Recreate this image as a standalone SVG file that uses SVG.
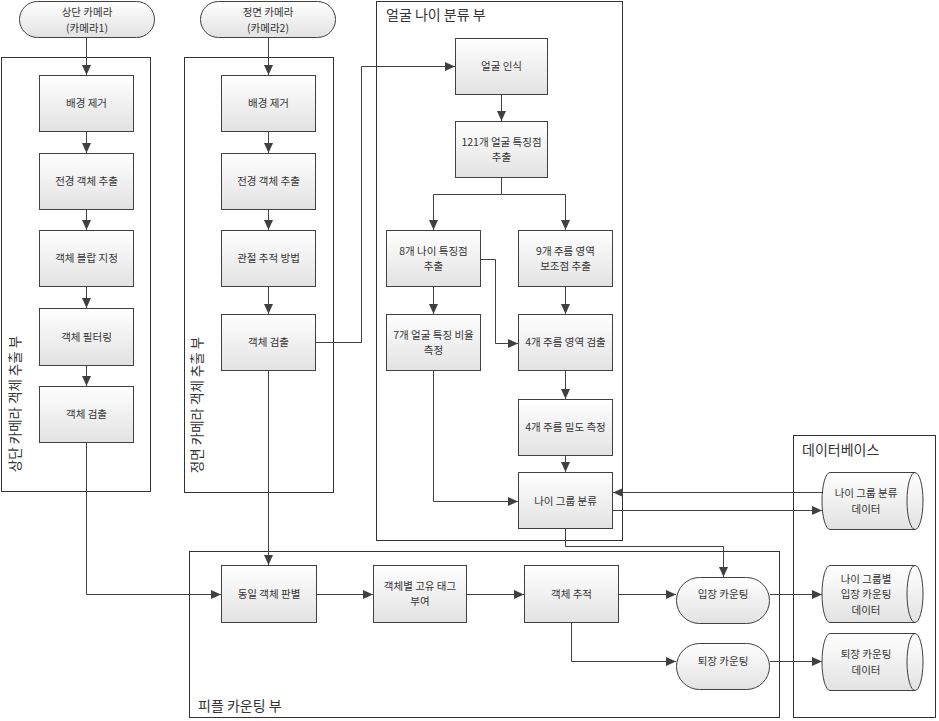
<svg xmlns="http://www.w3.org/2000/svg" width="939" height="721" viewBox="0 0 939 721">
<style>
text{font-family:"Noto Sans CJK KR","Noto Sans",sans-serif;fill:#333}
.lbl{font-size:10.5px;text-anchor:middle}
.ttl{font-size:14px}
.vt{font-size:13.5px;text-anchor:middle}
.grp{fill:none;stroke:#333;stroke-width:1}
.box{fill:url(#gf);stroke:#404040;stroke-width:1}
.cn{fill:none;stroke:#404040;stroke-width:1}
.ar{marker-end:url(#ah)}
</style>
<defs>
<linearGradient id="gf" x1="0" y1="0" x2="0" y2="1">
<stop offset="0" stop-color="#ffffff"/>
<stop offset="1" stop-color="#e2e2e2"/>
</linearGradient>
<marker id="ah" markerUnits="userSpaceOnUse" markerWidth="10" markerHeight="10" viewBox="0 0 10 10" refX="10" refY="5" orient="auto">
<path d="M0,0.5 L10,5 L0,9.5 Z" fill="#404040"/>
</marker>
</defs>
<rect width="939" height="721" fill="#fff"/>

<g id="groups">
<g id="grp-top"><rect class="grp" x="1.5" y="57.5" width="149" height="434"/>
<text class="vt" transform="translate(20,404) rotate(-90)">상단 카메라 객체 추출 부</text></g>
<g id="grp-front"><rect class="grp" x="184.5" y="57.5" width="149" height="435"/>
<text class="vt" transform="translate(202,405) rotate(-90)">정면 카메라 객체 추출 부</text></g>
<g id="grp-face"><rect class="grp" x="376.5" y="1.5" width="246" height="539"/>
<text class="ttl" x="386" y="20">얼굴 나이 분류 부</text></g>
<g id="grp-db"><rect class="grp" x="793.5" y="435.5" width="142" height="282"/>
<text class="ttl" x="802" y="455">데이터베이스</text></g>
<g id="grp-people"><rect class="grp" x="189.5" y="551.5" width="590" height="166"/>
<text class="ttl" x="198" y="711">피플 카운팅 부</text></g>
</g>

<g id="connectors">
<path class="cn ar" d="M86.5,38 V75"/>
<path class="cn ar" d="M86.5,132 V153"/>
<path class="cn ar" d="M86.5,210 V230"/>
<path class="cn ar" d="M86.5,287 V308"/>
<path class="cn ar" d="M86.5,365 V386"/>
<path class="cn ar" d="M268.5,38 V75"/>
<path class="cn ar" d="M268.5,132 V153"/>
<path class="cn ar" d="M268.5,210 V230"/>
<path class="cn ar" d="M268.5,287 V314"/>
<path class="cn ar" d="M86.5,443 V594.5 H221"/>
<path class="cn ar" d="M268.5,371 V565"/>
<path class="cn ar" d="M316,342.5 H361.5 V66.5 H455"/>
<path class="cn ar" d="M501.5,95 V121"/>
<path class="cn ar" d="M501.5,178 V194.5 H433.5 V230"/>
<path class="cn ar" d="M501.5,194.5 H565.5 V230"/>
<path class="cn ar" d="M433.5,287 V314"/>
<path class="cn ar" d="M481,259.5 H495.5 V343.5 H518"/>
<path class="cn ar" d="M565.5,287 V314"/>
<path class="cn ar" d="M565.5,371 V399"/>
<path class="cn ar" d="M565.5,456 V472"/>
<path class="cn ar" d="M433.5,371 V501.5 H518"/>
<path class="cn ar" d="M822,492.5 H613"/>
<path class="cn ar" d="M613,510.5 H822"/>
<path class="cn ar" d="M565.5,529 V546.5 H723.5 V577"/>
<path class="cn ar" d="M317,594.5 H373"/>
<path class="cn ar" d="M467,594.5 H524"/>
<path class="cn ar" d="M619,594.5 H676"/>
<path class="cn ar" d="M770,594.5 H822"/>
<path class="cn ar" d="M571.5,623 V661.5 H676"/>
<path class="cn ar" d="M770,661.5 H822"/>
</g>

<g id="cam1"><rect class="box" x="19.5" y="1.5" width="135" height="36" rx="18"/>
<text class="lbl" x="87" y="16">상단 카메라<tspan x="87" dy="15.5">(카메라1)</tspan></text></g>
<g id="cam2"><rect class="box" x="200.5" y="1.5" width="135" height="36" rx="18"/>
<text class="lbl" x="268" y="16">정면 카메라<tspan x="268" dy="15.5">(카메라2)</tspan></text></g>

<g id="t-bg"><rect class="box" x="39.5" y="75.5" width="94" height="56"/><text class="lbl" x="86.5" y="107">배경 제거</text></g>
<g id="t-fg"><rect class="box" x="39.5" y="153.5" width="94" height="56"/><text class="lbl" x="86.5" y="185">전경 객체 추출</text></g>
<g id="t-blob"><rect class="box" x="39.5" y="230.5" width="94" height="56"/><text class="lbl" x="86.5" y="262">객체 블랍 지정</text></g>
<g id="t-filter"><rect class="box" x="39.5" y="308.5" width="94" height="57"/><text class="lbl" x="86.5" y="341">객체 필터링</text></g>
<g id="t-detect"><rect class="box" x="39.5" y="386.5" width="94" height="56"/><text class="lbl" x="86.5" y="418">객체 검출</text></g>

<g id="f-bg"><rect class="box" x="221.5" y="75.5" width="94" height="56"/><text class="lbl" x="268.5" y="107">배경 제거</text></g>
<g id="f-fg"><rect class="box" x="221.5" y="153.5" width="94" height="56"/><text class="lbl" x="268.5" y="185">전경 객체 추출</text></g>
<g id="f-joint"><rect class="box" x="221.5" y="230.5" width="94" height="56"/><text class="lbl" x="268.5" y="262">관절 추적 방법</text></g>
<g id="f-detect"><rect class="box" x="221.5" y="314.5" width="94" height="56"/><text class="lbl" x="268.5" y="346">객체 검출</text></g>

<g id="a-face"><rect class="box" x="455.5" y="38.5" width="92" height="56"/><text class="lbl" x="501.5" y="70">얼굴 인식</text></g>
<g id="a-121"><rect class="box" x="455.5" y="121.5" width="92" height="56"/><text class="lbl" x="501.5" y="145.5">121개 얼굴 특징점<tspan x="501.5" dy="15.5">추출</tspan></text></g>
<g id="a-8"><rect class="box" x="386.5" y="230.5" width="94" height="56"/><text class="lbl" x="433.5" y="254.5">8개 나이 특징점<tspan x="433.5" dy="15.5">추출</tspan></text></g>
<g id="a-9"><rect class="box" x="518.5" y="230.5" width="94" height="56"/><text class="lbl" x="565.5" y="254.5">9개 주름 영역<tspan x="565.5" dy="15.5">보조점 추출</tspan></text></g>
<g id="a-7"><rect class="box" x="386.5" y="314.5" width="94" height="56"/><text class="lbl" x="433.5" y="338.5">7개 얼굴 특징 비율<tspan x="433.5" dy="15.5">측정</tspan></text></g>
<g id="a-4d"><rect class="box" x="518.5" y="314.5" width="94" height="56"/><text class="lbl" x="565.5" y="346">4개 주름 영역 검출</text></g>
<g id="a-4m"><rect class="box" x="518.5" y="399.5" width="94" height="56"/><text class="lbl" x="565.5" y="431">4개 주름 밀도 측정</text></g>
<g id="a-age"><rect class="box" x="518.5" y="472.5" width="94" height="56"/><text class="lbl" x="565.5" y="505">나이 그룹 분류</text></g>

<g id="p-same"><rect class="box" x="221.5" y="565.5" width="95" height="57"/><text class="lbl" x="269" y="598">동일 객체 판별</text></g>
<g id="p-tag"><rect class="box" x="373.5" y="565.5" width="93" height="57"/><text class="lbl" x="420" y="589.5">객체별 고유 태그<tspan x="420" dy="15.5">부여</tspan></text></g>
<g id="p-track"><rect class="box" x="524.5" y="565.5" width="94" height="57"/><text class="lbl" x="571.5" y="598">객체 추적</text></g>
<g id="p-in"><rect class="box" x="676.5" y="577.5" width="93" height="46" rx="23"/><text class="lbl" x="723" y="598">입장 카운팅</text></g>
<g id="p-out"><rect class="box" x="676.5" y="643.5" width="93" height="46" rx="23"/><text class="lbl" x="723" y="665">퇴장 카운팅</text></g>

<g id="db-age"><path class="box" d="M830,472.5 H915 A8,28.5 0 0 1 915,529.5 H830 A8,28.5 0 0 1 830,472.5 Z"/><path class="cn" d="M915,472.5 A8,28.5 0 0 0 915,529.5"/>
<text class="lbl" x="866" y="497">나이 그룹 분류<tspan x="866" dy="15.5">데이터</tspan></text></g>
<g id="db-in"><path class="box" d="M830,565.5 H915 A8,28.5 0 0 1 915,622.5 H830 A8,28.5 0 0 1 830,565.5 Z"/><path class="cn" d="M915,565.5 A8,28.5 0 0 0 915,622.5"/>
<text class="lbl" x="866" y="582.5">나이 그룹별<tspan x="866" dy="15.5">입장 카운팅</tspan><tspan x="866" dy="15.5">데이터</tspan></text></g>
<g id="db-out"><path class="box" d="M830,633.5 H915 A8,28.5 0 0 1 915,690.5 H830 A8,28.5 0 0 1 830,633.5 Z"/><path class="cn" d="M915,633.5 A8,28.5 0 0 0 915,690.5"/>
<text class="lbl" x="866" y="658">퇴장 카운팅<tspan x="866" dy="15.5">데이터</tspan></text></g>
</svg>
